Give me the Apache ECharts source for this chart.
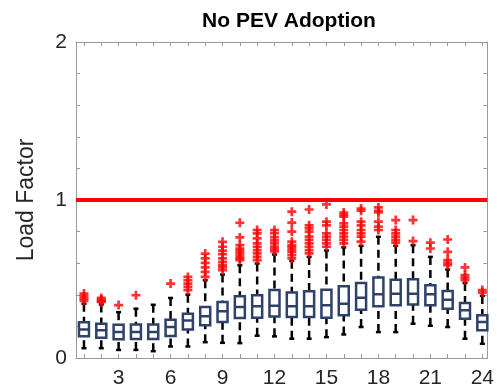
<!DOCTYPE html>
<html>
<head>
    <meta charset="UTF-8">
    <title>No PEV Adoption</title>
    <style>html, body { margin: 0; padding: 0; background: #fff; }</style>
</head>
<body>
    <div id="main" style="width: 497px;height:392px;"></div>
    <script src="https://cdn.jsdelivr.net/npm/echarts@6/dist/echarts.min.js"></script>
    <script type="text/javascript">
        // hour of day
        var hours = [1, 2, 3, 4, 5, 6, 7, 8, 9, 10, 11, 12, 13, 14, 15, 16, 17, 18, 19, 20, 21, 22, 23, 24];
        // box statistics
        var whiskerLow = [0.062, 0.062, 0.051, 0.051, 0.043, 0.073, 0.073, 0.100, 0.096, 0.094, 0.141, 0.137,
                          0.122, 0.122, 0.132, 0.149, 0.196, 0.164, 0.164, 0.217, 0.204, 0.196, 0.122, 0.090];
        var q1 = [0.137, 0.128, 0.118, 0.120, 0.120, 0.140, 0.181, 0.207, 0.228, 0.253, 0.255, 0.263,
                  0.259, 0.259, 0.255, 0.270, 0.306, 0.327, 0.334, 0.338, 0.334, 0.312, 0.249, 0.175];
        var median = [0.181, 0.175, 0.164, 0.164, 0.164, 0.196, 0.238, 0.264, 0.296, 0.323, 0.327, 0.330,
                      0.327, 0.327, 0.334, 0.344, 0.382, 0.403, 0.407, 0.407, 0.403, 0.369, 0.302, 0.228];
        var q3 = [0.227, 0.217, 0.210, 0.212, 0.212, 0.242, 0.280, 0.323, 0.355, 0.391, 0.397, 0.430,
                  0.414, 0.422, 0.432, 0.454, 0.475, 0.509, 0.496, 0.498, 0.460, 0.424, 0.348, 0.270];
        var whiskerHigh = [0.344, 0.339, 0.29, 0.312, 0.337, 0.380, 0.401, 0.492, 0.528, 0.587, 0.598, 0.655,
                           0.615, 0.64, 0.68, 0.70, 0.71, 0.767, 0.71, 0.714, 0.64, 0.56, 0.475, 0.393];
        var outliers = [
            [0.408, 0.39, 0.376, 0.362],
            [0.38, 0.37, 0.36, 0.355],
            [0.335],
            [0.397],
            [],
            [0.471],
            [0.513, 0.492, 0.471, 0.450, 0.429],
            [0.661, 0.630, 0.602, 0.573, 0.545, 0.513],
            [0.735, 0.704, 0.679, 0.658, 0.630, 0.609, 0.588, 0.573, 0.556],
            [0.856, 0.763, 0.714, 0.693, 0.679, 0.662, 0.645, 0.63, 0.62],
            [0.81, 0.789, 0.757, 0.725, 0.704, 0.683, 0.662, 0.64, 0.62],
            [0.81, 0.79, 0.765, 0.745, 0.725, 0.705, 0.69, 0.675],
            [0.926, 0.857, 0.80, 0.736, 0.715, 0.704, 0.687, 0.672, 0.651, 0.63],
            [0.94, 0.84, 0.82, 0.80, 0.768, 0.747, 0.726, 0.704, 0.683, 0.662],
            [0.972, 0.863, 0.84, 0.789, 0.768, 0.747, 0.726, 0.704],
            [0.921, 0.908, 0.894, 0.852, 0.831, 0.81, 0.789, 0.768, 0.747, 0.726],
            [0.946, 0.932, 0.863, 0.84, 0.81, 0.789, 0.768, 0.736],
            [0.953, 0.932, 0.921, 0.863, 0.831, 0.81],
            [0.873, 0.81, 0.789, 0.768, 0.747, 0.73],
            [0.873, 0.74],
            [0.73, 0.693],
            [0.75, 0.672, 0.62, 0.602, 0.587],
            [0.573, 0.524, 0.509, 0.492],
            [0.43, 0.414]
        ];
        var limitValue = 1;
        var xTickLabels = [3, 6, 9, 12, 15, 18, 21, 24];
        var yTickLabels = [0, 1, 2];

        var fontName = 'Liberation Sans, Arial, sans-serif';
        var frameColor = '#9a9a9a';
        var textColor = '#262626';

        var myChart = echarts.init(document.getElementById('main'));

        // build series data from the arrays
        var boxData = [];
        var whiskerData = [];
        var outlierData = [];
        for (var i = 0; i < hours.length; i++) {
            // whiskers are drawn separately (black dashed), so the box has none
            boxData.push([hours[i], q1[i], q1[i], median[i], q3[i], q3[i]]);
            whiskerData.push([hours[i], whiskerLow[i], q1[i], q3[i], whiskerHigh[i]]);
            for (var j = 0; j < outliers[i].length; j++) {
                outlierData.push([hours[i], outliers[i][j]]);
            }
        }

        function renderWhisker(params, api) {
            var x = api.value(0);
            var pLo = api.coord([x, api.value(1)]);
            var pQ1 = api.coord([x, api.value(2)]);
            var pQ3 = api.coord([x, api.value(3)]);
            var pHi = api.coord([x, api.value(4)]);
            var cap = 2.5;
            var dashStyle = { stroke: '#000', lineWidth: 2.5, lineDash: [8, 5], fill: null };
            var capStyle = { stroke: '#000', lineWidth: 2.5, fill: null };
            return {
                type: 'group',
                children: [
                    { type: 'line', shape: { x1: pLo[0], y1: pLo[1], x2: pQ1[0], y2: pQ1[1] }, style: dashStyle },
                    { type: 'line', shape: { x1: pHi[0], y1: pHi[1], x2: pQ3[0], y2: pQ3[1] }, style: dashStyle },
                    { type: 'line', shape: { x1: pLo[0] - cap, y1: pLo[1], x2: pLo[0] + cap, y2: pLo[1] }, style: capStyle },
                    { type: 'line', shape: { x1: pHi[0] - cap, y1: pHi[1], x2: pHi[0] + cap, y2: pHi[1] }, style: capStyle }
                ]
            };
        }

        var xAxisCommon = {
            type: 'value',
            min: 0.54,
            max: 24.29,
            splitLine: { show: false },
            axisLine: { show: true, onZero: false, lineStyle: { color: frameColor, width: 1 } },
            axisTick: { show: true, inside: true, length: 4, customValues: hours, lineStyle: { color: frameColor } }
        };
        var yAxisCommon = {
            type: 'value',
            min: 0,
            max: 2,
            interval: 0.2,
            splitLine: { show: false },
            axisLine: { show: true, onZero: false, lineStyle: { color: frameColor, width: 1 } },
            axisTick: { show: true, inside: true, length: 4, lineStyle: { color: frameColor } }
        };

        var option = {
            animation: false,
            backgroundColor: '#fff',
            title: {
                text: 'No PEV Adoption',
                left: 284,
                top: 6,
                textAlign: 'center',
                textStyle: { fontFamily: fontName, fontSize: 21, fontWeight: 'bold', color: '#000' }
            },
            grid: { left: 76, right: 5, top: 42, bottom: 34, containLabel: false },
            xAxis: [
                Object.assign({}, xAxisCommon, {
                    position: 'bottom',
                    axisLabel: {
                        customValues: xTickLabels,
                        fontFamily: fontName, fontSize: 21, color: textColor, margin: 10
                    }
                }),
                Object.assign({}, xAxisCommon, { position: 'top', axisLabel: { show: false } })
            ],
            yAxis: [
                Object.assign({}, yAxisCommon, {
                    position: 'left',
                    name: 'Load Factor',
                    nameLocation: 'middle',
                    nameGap: 38,
                    nameTextStyle: { fontFamily: fontName, fontSize: 23, color: textColor },
                    axisLabel: {
                        fontFamily: fontName, fontSize: 21, color: textColor, margin: 9,
                        formatter: function (v) {
                            var r = Math.round(v);
                            return (Math.abs(v - r) < 1e-6 && yTickLabels.indexOf(r) >= 0) ? String(r) : '';
                        }
                    }
                }),
                Object.assign({}, yAxisCommon, { position: 'right', axisLabel: { show: false } })
            ],
            series: [
                {
                    type: 'custom',
                    name: 'whiskers',
                    xAxisIndex: 0,
                    yAxisIndex: 0,
                    z: 2,
                    renderItem: renderWhisker,
                    data: whiskerData
                },
                {
                    type: 'boxplot',
                    name: 'boxes',
                    xAxisIndex: 0,
                    yAxisIndex: 0,
                    z: 3,
                    boxWidth: [10, 10],
                    itemStyle: { color: '#fff', borderColor: '#2d4169', borderWidth: 2.5 },
                    data: boxData
                },
                {
                    type: 'scatter',
                    name: 'outliers',
                    xAxisIndex: 0,
                    yAxisIndex: 0,
                    z: 4,
                    symbol: 'path://M2.8,0H5.2V2.8H8V5.2H5.2V8H2.8V5.2H0V2.8H2.8Z',
                    symbolSize: 9,
                    itemStyle: { color: '#ff0000' },
                    data: outlierData,
                    markLine: {
                        silent: true,
                        symbol: 'none',
                        label: { show: false },
                        lineStyle: { color: '#ff0000', width: 4, type: 'solid' },
                        data: [{ yAxis: limitValue }]
                    }
                }
            ]
        };

        myChart.setOption(option);
    </script>
</body>
</html>
